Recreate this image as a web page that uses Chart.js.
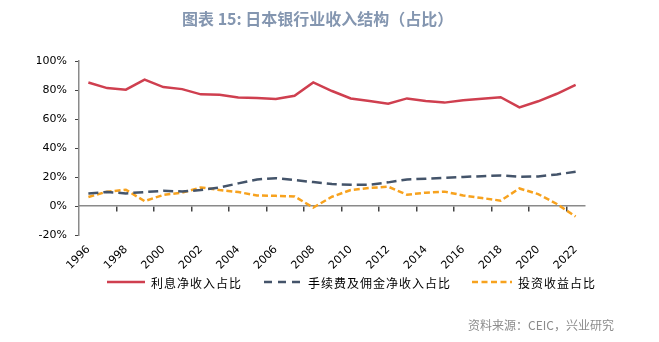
<html>
<head>
<meta charset="utf-8">
<script src="https://cdn.jsdelivr.net/npm/chart.js@4.4.1/dist/chart.umd.min.js"></script>
<style>
  *{padding:0; margin:0;}
  body{background:#fff; width:659px; height:342px; overflow:hidden;}
  #wrap{position:relative; width:659px; height:342px;}
  #title{position:absolute; left:182px; top:6px; font:bold 16px "Noto Sans CJK SC", sans-serif; color:#8496b0; white-space:nowrap;}
  .leg{position:absolute; top:274px; height:16px; display:flex; align-items:center; font:12px "Noto Sans CJK SC", sans-serif; letter-spacing:1px; color:#000; white-space:nowrap;}
  .leg svg{margin-right:6px;}
  #source{position:absolute; left:468px; top:316px; font:12px "Noto Sans CJK SC", sans-serif; color:#8c8c8c; white-space:nowrap;}
</style>
</head>
<body>
<div id="wrap">
  <canvas id="chart" width="659" height="342"></canvas>
  <div id="title">图表 15: 日本银行业收入结构（占比）</div>
  <div class="leg" style="left:107px"><svg width="38" height="6"><line x1="0" y1="3" x2="38" y2="3" stroke="#cf3f4f" stroke-width="2.5"/></svg>利息净收入占比</div>
  <div class="leg" style="left:264px"><svg width="38" height="6"><line x1="0" y1="3" x2="38" y2="3" stroke="#44546a" stroke-width="2.5" stroke-dasharray="8 6"/></svg>手续费及佣金净收入占比</div>
  <div class="leg" style="left:472px"><svg width="40" height="6"><line x1="0" y1="3" x2="40" y2="3" stroke="#f7a21e" stroke-width="2.5" stroke-dasharray="6 3.5"/></svg>投资收益占比</div>
  <div id="source">资料来源：CEIC，兴业研究</div>
</div>
<script>
var years = ['1996','1997','1998','1999','2000','2001','2002','2003','2004','2005','2006','2007','2008','2009','2010','2011','2012','2013','2014','2015','2016','2017','2018','2019','2020','2021','2022'];
var netInterest = [85.2,81.3,80.2,87.1,82.0,80.6,77.0,76.7,74.9,74.5,73.8,76.0,85.2,79.3,74.2,72.4,70.6,74.2,72.4,71.3,73.0,74.0,75.0,68.0,72.2,77.4,83.6];
var feesCommission = [8.7,9.6,8.7,9.6,10.5,10.0,11.0,12.8,15.6,18.3,19.2,17.9,16.5,15.1,14.6,14.7,16.3,18.3,18.8,19.5,20.0,20.6,21.1,20.2,20.4,21.8,23.6];
var investment = [6.2,9.9,11.2,3.4,7.6,9.2,12.8,11.0,9.6,7.3,7.0,6.6,-1.1,6.4,11.0,12.4,13.3,7.8,9.2,9.9,7.3,5.5,3.7,12.1,8.2,1.4,-7.3];
var seriesNames = ['利息净收入占比','手续费及佣金净收入占比','投资收益占比'];
var yTicks = {min: -20, max: 100, step: 20};

var axisGray = '#8a8a8a';
var tickFont = {family: 'DejaVu Sans', size: 11};

var ctx = document.getElementById('chart').getContext('2d');
var chart = new Chart(ctx, {
    type: 'line',
    data: {
        labels: years,
        datasets: [
            {label: seriesNames[0], data: netInterest, borderColor: '#cf3f4f', borderWidth: 2.5, pointRadius: 0, tension: 0},
            {label: seriesNames[1], data: feesCommission, borderColor: '#44546a', borderWidth: 2.5, borderDash: [10, 5], pointRadius: 0, tension: 0},
            {label: seriesNames[2], data: investment, borderColor: '#f7a21e', borderWidth: 2.5, borderDash: [6, 3], pointRadius: 0, tension: 0}
        ]
    },
    options: {
        responsive: false,
        animation: false,
        devicePixelRatio: 1,
        layout: {padding: {left: 37, right: 74, top: 61, bottom: 67}},
        plugins: {legend: {display: false}, tooltip: {enabled: false}},
        scales: {
            x: {
                offset: true,
                grid: {display: false, drawTicks: false},
                border: {display: false},
                ticks: {
                    autoSkip: false, minRotation: 45, maxRotation: 45, padding: 8,
                    color: '#000', font: tickFont,
                    callback: function(v, i) { return i % 2 === 0 ? years[i] : ''; }
                },
                afterFit: function(s) { s.height = 40; }
            },
            x0: {
                type: 'category',
                position: {y: 0},
                offset: true,
                ticks: {display: false},
                grid: {
                    offset: true, drawOnChartArea: false, drawTicks: true, tickLength: 5, lineWidth: 1.5,
                    color: function(c) { return (c.index !== undefined && c.index > 0 && c.index % 2 === 0) ? '#444' : 'rgba(0,0,0,0)'; }
                },
                border: {display: true, color: axisGray, width: 1.5}
            },
            y: {
                min: yTicks.min, max: yTicks.max,
                grid: {drawOnChartArea: false, drawTicks: true, tickLength: 4, color: '#444', lineWidth: 1},
                border: {display: true, color: axisGray, width: 1.5},
                ticks: {
                    stepSize: yTicks.step, padding: 8, color: '#000', font: tickFont,
                    callback: function(v) { return v + '%'; }
                },
                afterFit: function(s) { s.width = 42; }
            }
        }
    }
});
</script>
</body>
</html>
